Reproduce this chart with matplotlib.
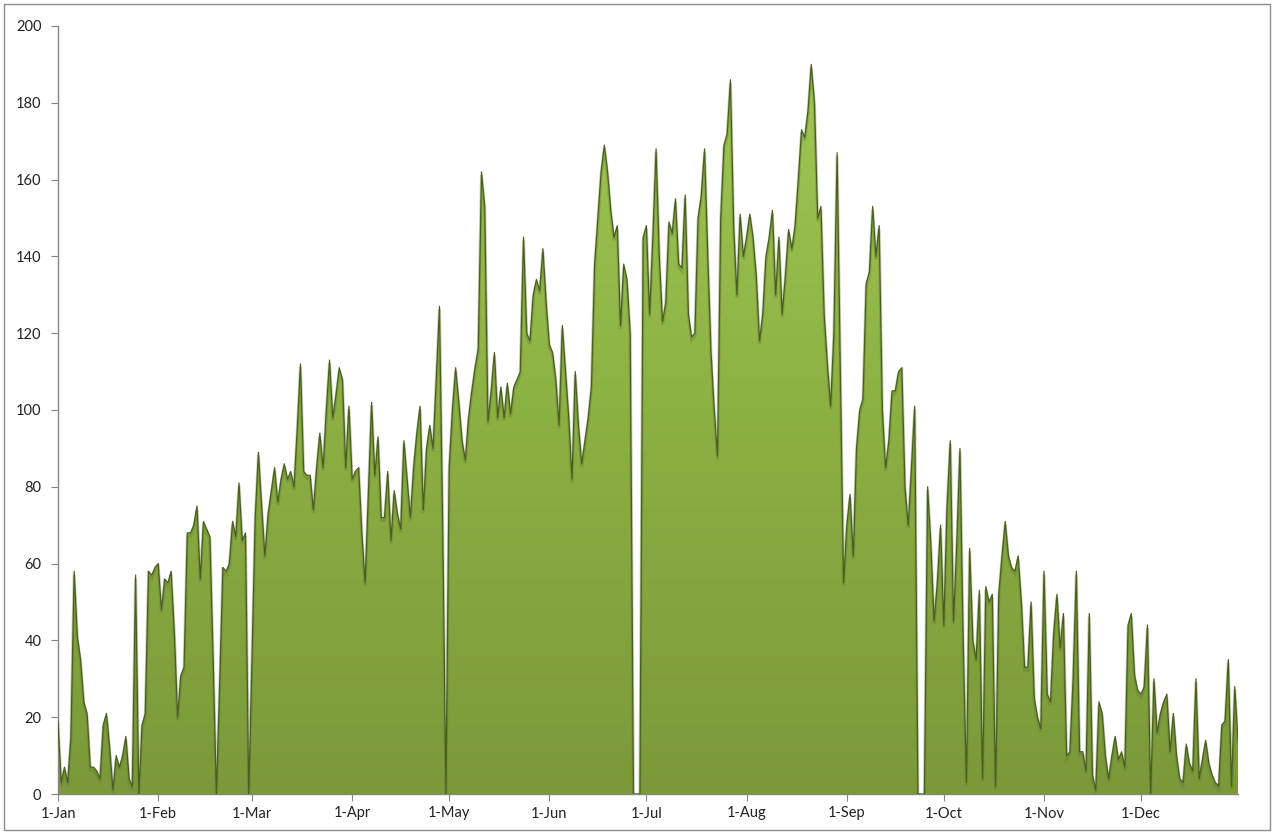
import numpy as np
import pandas as pd
import matplotlib
matplotlib.use("Agg")
import matplotlib.pyplot as plt
from matplotlib.colors import LinearSegmentedColormap
from matplotlib.patches import Rectangle, PathPatch
from matplotlib.path import Path

plt.rcParams['font.family'] = ['Lato', 'DejaVu Sans']

# daily values (leap year 2012)
jan = [19, 3, 7, 3, 15, 58, 41, 35, 24, 21, 7, 7, 6, 4, 18, 21, 12, 1, 10, 7, 10, 15, 4, 2, 57, 0, 18, 21, 58, 57, 59]
feb = [60, 48, 56, 55, 58, 42, 20, 31, 33, 68, 68, 70, 75, 56, 71, 69, 67, 35, 0, 28, 59, 58, 60, 71, 67, 81, 66, 68, 0]
mar = [35, 72, 89, 75, 62, 73, 79, 85, 76, 82, 86, 82, 84, 80, 95, 112, 84, 83, 83, 74, 85, 94, 85, 100, 113, 98, 104, 111, 108, 85, 101]
apr = [82, 84, 85, 68, 55, 78, 102, 83, 93, 72, 72, 84, 66, 79, 73, 69, 92, 82, 72, 85, 94, 101, 74, 90, 96, 90, 108, 127, 70, 0]
may = [85, 100, 111, 102, 92, 87, 98, 105, 111, 116, 162, 153, 97, 105, 115, 98, 106, 98, 107, 99, 106, 108, 110, 145, 120, 118, 130, 134, 131, 142, 128]
jun = [117, 115, 108, 96, 122, 110, 98, 82, 110, 96, 86, 92, 98, 106, 138, 150, 162, 169, 162, 152, 145, 148, 122, 138, 134, 120, 0, 0, 0, 145]
jul = [148, 125, 145, 168, 140, 123, 128, 149, 146, 155, 138, 137, 156, 125, 119, 120, 150, 156, 168, 140, 115, 100, 88, 150, 169, 172, 186, 148, 130, 151, 140]
aug = [145, 151, 145, 135, 118, 125, 140, 145, 152, 130, 145, 125, 135, 147, 142, 148, 160, 173, 171, 178, 190, 180, 150, 153, 125, 112, 101, 120, 167, 110, 55]
sep = [70, 78, 62, 90, 100, 103, 133, 136, 153, 140, 148, 100, 85, 92, 105, 105, 110, 111, 80, 70, 85, 101, 0, 0, 0, 80, 65, 45, 55, 70]
oct_ = [44, 75, 92, 45, 65, 90, 40, 3, 64, 40, 35, 53, 4, 54, 50, 52, 2, 52, 62, 71, 62, 59, 58, 62, 50, 33, 33, 50, 25, 20, 17]
nov = [58, 26, 24, 42, 52, 38, 47, 10, 11, 30, 58, 11, 11, 6, 47, 5, 1, 24, 21, 10, 4, 10, 15, 9, 11, 7, 44, 47, 31, 27]
dec = [26, 28, 44, 0, 30, 16, 21, 24, 26, 11, 21, 10, 4, 3, 13, 8, 6, 30, 4, 9, 14, 8, 5, 3, 2, 18, 19, 35, 2, 28, 14]

values = np.array(jan + feb + mar + apr + may + jun + jul + aug + sep + oct_ + nov + dec, dtype=float)
dates = pd.date_range("2012-01-01", periods=len(values), freq="D")
month_labels = ['1-Jan', '1-Feb', '1-Mar', '1-Apr', '1-May', '1-Jun',
                '1-Jul', '1-Aug', '1-Sep', '1-Oct', '1-Nov', '1-Dec']
y_ticks = list(range(0, 201, 20))

x = np.arange(len(values))
month_pos = [i for i, d in enumerate(dates) if d.day == 1]

W, H = 1273, 834
fig = plt.figure(figsize=(W / 100, H / 100), dpi=100)
ax = fig.add_axes([58 / W, 40 / H, 1180 / W, 768 / H])
ax.set_xlim(0, len(values) - 1)
ax.set_ylim(0, 200)

# gradient-filled area
verts = [(x[0], 0)] + list(zip(x, values)) + [(x[-1], 0), (x[0], 0)]
path = Path(verts, closed=True)
patch = PathPatch(path, transform=ax.transData, facecolor='none', edgecolor='none')
ax.add_patch(patch)
cmap = LinearSegmentedColormap.from_list('g', ['#7B993A', '#8DB043', '#A2C956'])
grad = np.linspace(0, 1, 256).reshape(-1, 1)
im = ax.imshow(grad, extent=[x[0], x[-1], 0, 200], origin='lower', aspect='auto',
               cmap=cmap, zorder=1, interpolation='bilinear')
im.set_clip_path(patch)

# soft dark edge
ax.plot(x, values - 0.8, color='#5E7A2A', lw=2.2, alpha=0.35, zorder=2, solid_joinstyle='miter')
ax.plot(x, values, color='#4A5E22', lw=0.9, zorder=3)

for s in ['top', 'right']:
    ax.spines[s].set_visible(False)
for s in ['left', 'bottom']:
    ax.spines[s].set_color('#868686')
    ax.spines[s].set_linewidth(1.0)

ax.set_yticks(y_ticks)
ax.set_xticks(month_pos)
ax.set_xticklabels(month_labels)
ax.tick_params(axis='both', direction='out', length=5, color='#868686',
               labelsize=10.5, labelcolor='#222222')
ax.tick_params(axis='y', pad=7)
ax.tick_params(axis='x', pad=4)

fig.patches.append(Rectangle((4 / W, 4 / H), 1266 / W, 826 / H, transform=fig.transFigure,
                             fill=False, edgecolor='#8c8c8c', lw=1))

fig.savefig('out.png', dpi=100)
